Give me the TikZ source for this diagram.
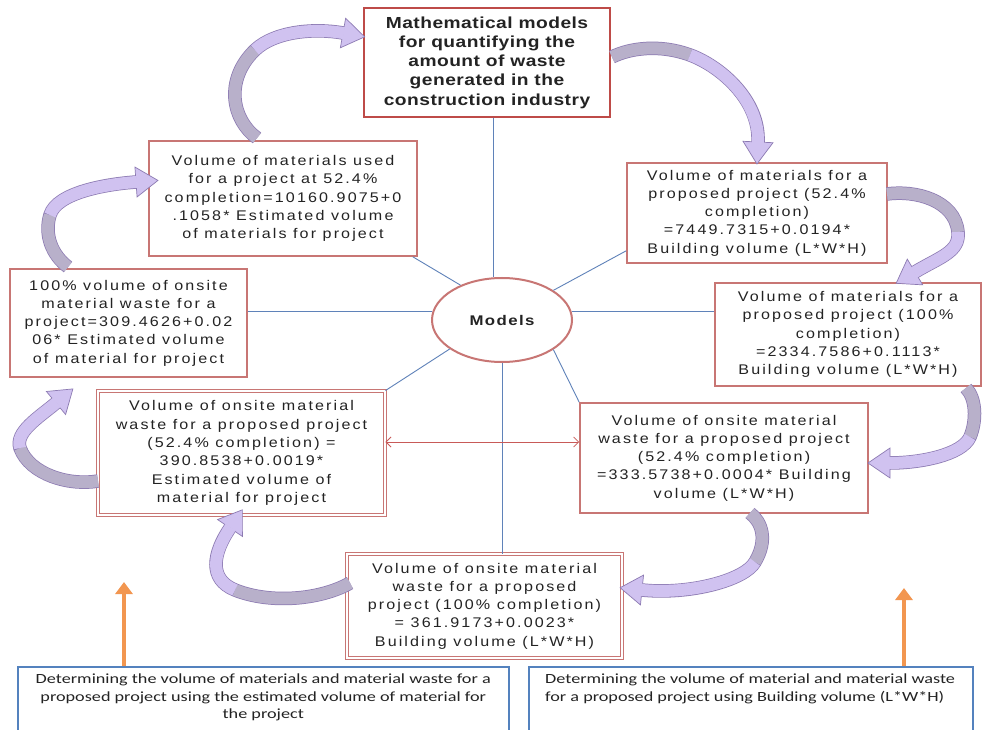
\documentclass[tikz,border=0pt]{standalone}
\usepackage{fontspec}
\setmainfont{Liberation Sans}
\newfontfamily\boxfont{Liberation Sans}[FakeStretch=1.15,LetterSpace=15]
\newfontfamily\titlefont{Liberation Sans}[FakeStretch=1.2,LetterSpace=3]
\newfontfamily\modfont{Liberation Sans}[FakeStretch=1.2,LetterSpace=10]
\newfontfamily\notefont{Carlito}[FakeStretch=1.3]
\usetikzlibrary{calc,arrows.meta,shapes.geometric}

\definecolor{boxred}{RGB}{200,118,116}
\definecolor{titlered}{RGB}{190,75,72}
\definecolor{connblue}{RGB}{95,130,185}
\definecolor{ribline}{RGB}{140,122,178}
\definecolor{ribgrayc}{RGB}{184,176,202}
\definecolor{ribviolc}{RGB}{208,194,240}
\definecolor{noteblue}{RGB}{84,130,190}
\definecolor{orangec}{RGB}{242,150,80}
\definecolor{txt}{RGB}{35,35,35}
\definecolor{arrred}{RGB}{200,90,88}

\tikzset{
  mbox/.style={draw=boxred, line width=1.6pt, fill=white, align=center, inner sep=0pt,
    font=\boxfont\fontsize{14}{18.3}\selectfont, text=txt},
  dbox/.style={mbox, line width=0.9pt, double=white, double distance=1.8pt},
  titlebox/.style={mbox, draw=titlered, line width=2pt,
    font=\titlefont\bfseries\fontsize{16}{19.2}\selectfont},
  conn/.style={draw=connblue, line width=0.9pt},
  notebox/.style={draw=noteblue, line width=1.5pt, fill=white, inner sep=0pt},
  notetext/.style={font=\notefont\fontsize{14}{17.5}\selectfont, text=txt, inner sep=0pt},
  ribout/.style={draw=ribline, line width=13.5pt},
  ribgray/.style={draw=ribgrayc, line width=12pt},
  ribviol/.style={draw=ribviolc, line width=12pt, shorten >=-1pt},
  ribhead/.style={fill=ribviolc, draw=ribline, line width=0.7pt, line join=miter},
  redarr/.style={draw=arrred, line width=0.8pt,
    {Straight Barb[length=5pt,width=10pt]}-{Straight Barb[length=5pt,width=10pt]}},
  orangearr/.style={draw=orangec, line width=4.5pt, -{Triangle[length=12pt,width=17pt]}}
}

\newcommand\ribbonarrow[7]{%
  \draw[ribout] (#1) .. controls (#2) and (#3) .. (#4) .. controls (#5) and (#6) .. (#7);
  \filldraw[ribhead] ($(#7)!15pt!90:(#6)$) -- ($(#7)!-22pt!(#6)$) -- ($(#7)!15pt!-90:(#6)$) -- cycle;
  \draw[ribgray] (#1) .. controls (#2) and (#3) .. (#4);
  \draw[ribviol] (#4) .. controls (#5) and (#6) .. (#7);
}

\begin{document}
\begin{tikzpicture}[x=1pt,y=-1pt]
\path[use as bounding box, clip] (0,0) rectangle (983,730);
\fill[white] (0,0) rectangle (983,730);

% central ellipse
\node[ellipse, draw=boxred, line width=2pt, fill=white, minimum width=140, minimum height=84, inner sep=0pt,
  font=\modfont\bfseries\fontsize{14}{16}\selectfont, text=txt] (models) at (502,320) {Models};

% boxes
\node[titlebox, minimum width=246, minimum height=109] (top) at (487,62.5)
  {Mathematical models\\for quantifying the\\amount of waste\\generated in the\\construction industry};
\node[mbox, minimum width=268, minimum height=115] (A) at (283,198.5)
  {Volume of materials used\\for a project at 52.4\%\\completion=10160.9075+0\\.1058* Estimated volume\\of materials for project};
\node[mbox, minimum width=237, minimum height=108] (B) at (128.5,323)
  {100\% volume of onsite\\material waste for a\\project=309.4626+0.02\\06* Estimated volume\\of material for project};
\node[mbox, minimum width=260, minimum height=100] (C) at (757,213)
  {Volume of materials for a\\proposed project (52.4\%\\completion)\\=7449.7315+0.0194*\\Building volume (L*W*H)};
\node[mbox, minimum width=266, minimum height=103] (D) at (848,334.5)
  {Volume of materials for a\\proposed project (100\%\\completion)\\=2334.7586+0.1113*\\Building volume (L*W*H)};
\node[mbox, minimum width=288, minimum height=110] (E) at (724,458)
  {Volume of onsite material\\waste for a proposed project\\(52.4\% completion)\\=333.5738+0.0004* Building\\volume (L*W*H)};
\node[dbox, minimum width=287, minimum height=124] (F) at (241.5,453)
  {Volume of onsite material\\waste for a proposed project\\(52.4\% completion) =\\390.8538+0.0019*\\Estimated volume of\\material for project};
\node[dbox, minimum width=275, minimum height=104] (G) at (484.5,606)
  {Volume of onsite material\\waste for a proposed\\project (100\% completion)\\= 361.9173+0.0023*\\Building volume (L*W*H)};

% blue connectors
\coordinate (linex) at (493,0);
\draw[conn] (top.south -| linex) -- (models.north -| linex);
\draw[conn] (models.30) -- ($(C.south west)+(0,-13)$);
\draw[conn] (models.7) -- (models.7 -| D.west);
\draw[conn] (models.173) -- (models.173 -| B.east);
\draw[conn] (models.140) -- ($(A.south east)+(-5,0)$);
\draw[conn] (models.209) -- (F.north east);
\draw[conn] (models.south) -- (models.south |- G.north);
\draw[conn] (models.-30) -- (E.north west);

% red double arrow
\coordinate (ra) at (0,442);
\draw[redarr] (F.east |- ra) -- (E.west |- ra);

% curved ribbon arrows
\ribbonarrow{257,138}{232,120}{224,80}{255,50}{275,31}{315,28}{343,33}
\ribbonarrow{612,57}{630,48}{660,44}{690,55}{720,66}{760,100}{758,142}
\ribbonarrow{887,194}{915,190}{955,200}{958,232}{960,252}{940,257}{915,272}
\ribbonarrow{966,388}{976,398}{977,420}{970,437}{962,455}{920,463}{890,463}
\ribbonarrow{750,513}{762,522}{768,540}{755,562}{745,580}{690,595}{642,590}
\ribbonarrow{350,583}{320,600}{270,604}{235,590}{208,579}{213,553}{230,528}
\ribbonarrow{98,481}{70,486}{30,475}{20,448}{15,432}{38,418}{56,403}
\ribbonarrow{68,267}{52,255}{44,235}{50,215}{57,192}{108,184}{136,182}

% bottom notes
\node[notebox, anchor=north west, minimum width=491, minimum height=70] (botL) at (17,666) {};
\node[notetext, anchor=north, align=center] (botLt) at ($(botL.north)+(0,8)$)
  {Determining the volume of materials and material waste for a\\proposed project using the estimated volume of material for\\the project};
\node[notebox, anchor=north west, minimum width=444, minimum height=70] (botR) at (528,666) {};
\node[notetext, anchor=north west, align=left] (botRt) at ($(botR.north west)+(17,8)$)
  {Determining the volume of material and material waste\\for a proposed project using Building volume (L*W*H)};

% orange arrows
\coordinate (oL) at (124,582);
\coordinate (oR) at (904,588);
\draw[orangearr] (botL.north -| oL) -- (oL);
\draw[orangearr] (botR.north -| oR) -- (oR);
\end{tikzpicture}
\end{document}
